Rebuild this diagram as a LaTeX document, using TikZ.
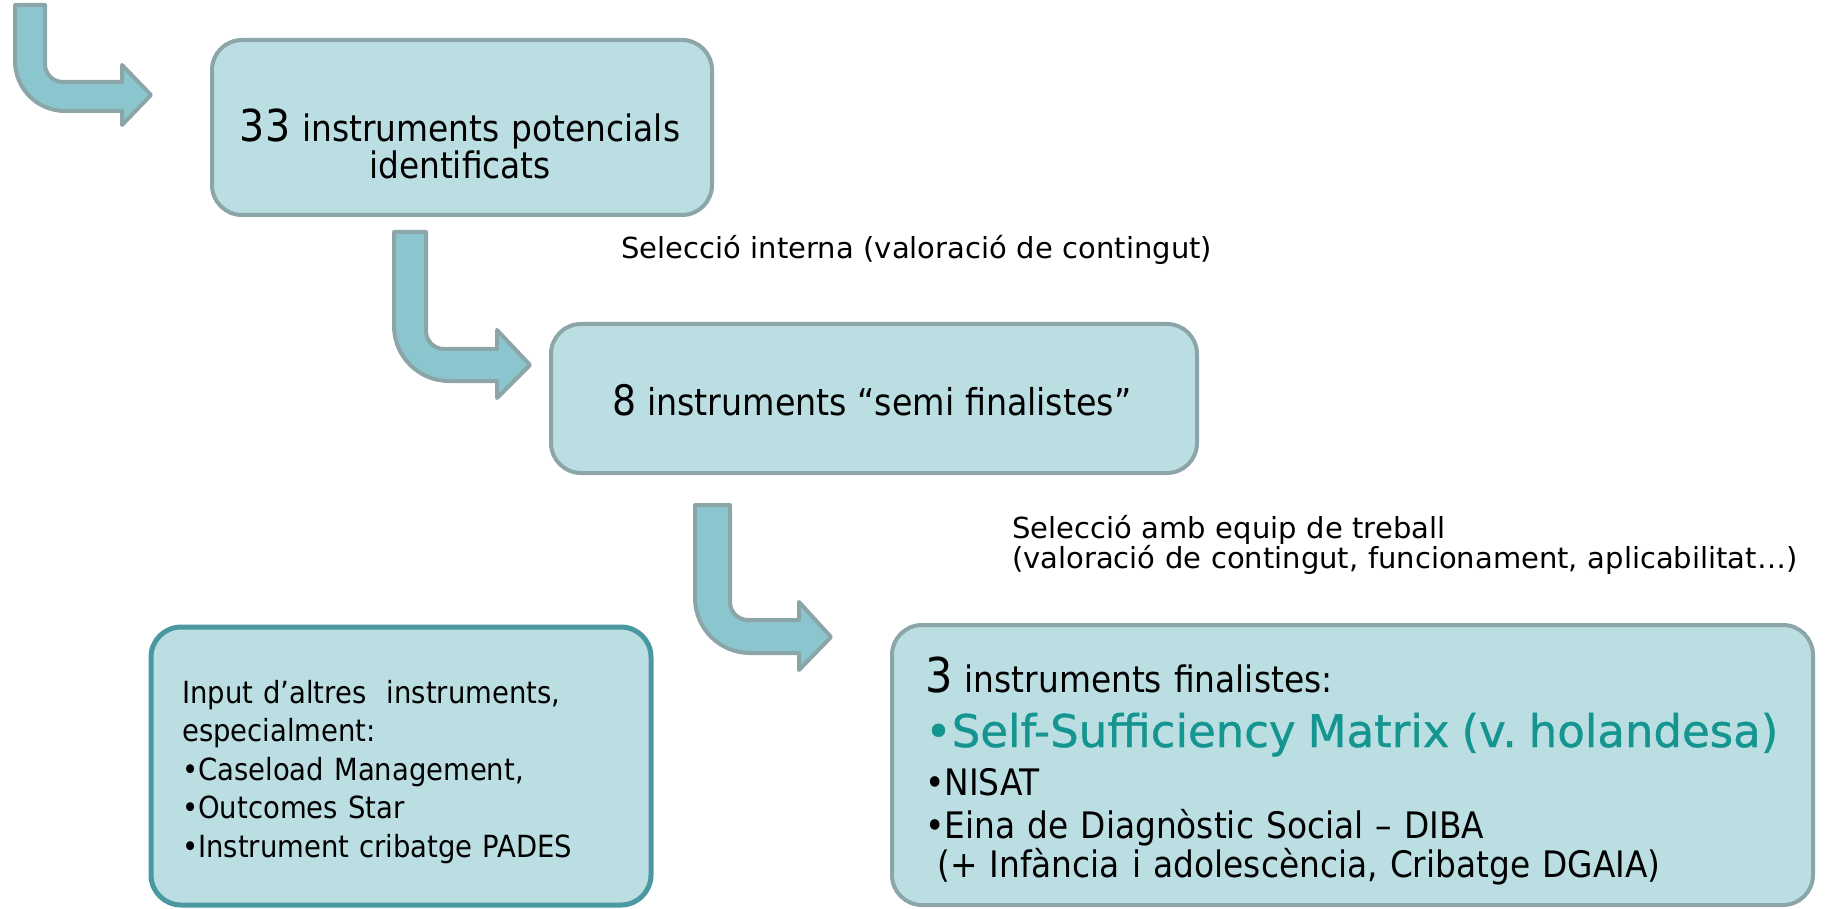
\documentclass[tikz,border=0pt]{standalone}
\usepackage{fontspec}
\setmainfont{DejaVu Sans Condensed}
\newfontfamily\notefont{DejaVu Sans}
\newfontface\matrixfont[FakeBold=0.8]{DejaVu Sans}
\setlength{\lineskiplimit}{-100pt}

\definecolor{boxfill}{HTML}{BBDEE2}
\definecolor{boxline}{HTML}{8CA5A8}
\definecolor{arrowfill}{HTML}{8BC6CE}
\definecolor{inputline}{HTML}{4A99A1}
\definecolor{matrixgreen}{HTML}{14958F}

\tikzset{
  stagebox/.style={draw=boxline, fill=boxfill, line width=4pt,
    rounded corners=30pt, inner sep=0pt},
  stagetext/.style={inner sep=0pt, anchor=base west, align=left},
  bentarrow/.style={draw=boxline, fill=arrowfill, line width=4pt,
    line join=round},
  note/.style={anchor=base west, inner sep=0pt, align=left, text width=815pt,
    font=\notefont\fontsize{29}{30}\selectfont}
}

\begin{document}
\begin{tikzpicture}[x=1pt, y=-1pt]
      \useasboundingbox (0,0) rectangle (1829,909);

      % Bent block arrows between the stages
      \draw[bentarrow] (15,5) -- (45,5) -- (45,64) arc(180:90:18)
        -- (122,82) -- (122,65) -- (151,95) -- (122,125) -- (122,111)
        -- (65,111) arc(90:180:50) -- cycle;
      \draw[bentarrow] (394,232) -- (426,232) -- (426,331) arc(180:90:18)
        -- (497,349) -- (497,330) -- (530,365) -- (497,398) -- (497,381)
        -- (449,381) arc(90:180:55) -- cycle;
      \draw[bentarrow] (695,505) -- (730,505) -- (730,602) arc(180:90:18)
        -- (799,620) -- (799,602) -- (831,637) -- (799,670) -- (799,653)
        -- (750,653) arc(90:180:55) -- cycle;

      % The three selection stages
      \node[stagebox, minimum width=500pt, minimum height=175pt] (potencials) at (462,127.5) {};
      \node[stagetext, anchor=base, align=center, text width=500pt,
        font=\fontsize{36.5}{37}\selectfont] (potencialstext) at (460,142)
        {{\fontsize{44}{44}\selectfont 33} instruments potencials\\identificats};

      \node[stagebox, minimum width=646pt, minimum height=149pt] (semifinal) at (874,398.5) {};
      \node[stagetext, anchor=base, font=\fontsize{37}{37}\selectfont] (semifinaltext) at (872,415)
        {{\fontsize{42}{42}\selectfont 8} instruments “semi finalistes”};

      \node[stagebox, minimum width=921pt, minimum height=280pt] (finalistes) at (1352.5,765) {};
      \node[stagetext, text width=880pt, font=\fontsize{36.5}{39}\selectfont] (finaliststext) at (925,692)
        {{\fontsize{48}{48}\selectfont 3} instruments finalistes:\\[16pt]
         {\color{matrixgreen}\matrixfont\fontsize{45}{45}\selectfont •Self-Sufficiency Matrix (v.~holandesa)}\\[9pt]
         •NISAT\\[4pt]
         •Eina de Diagnòstic Social – DIBA\\
         \ (+ Infància i adolescència, Cribatge DGAIA)};

      % Other instruments that fed the selection
      \node[stagebox, draw=inputline, line width=5pt, minimum width=500pt,
        minimum height=278pt] (altres) at (401,766) {};
      \node[stagetext, text width=460pt, font=\fontsize{30.5}{38.5}\selectfont] (altrestext) at (182,703)
        {Input d’altres\ \ instruments,\\
         especialment:\\
         •Caseload Management,\\
         •Outcomes Star\\
         •Instrument cribatge PADES};

      % Selection criteria
      \node[note] (interna) at (621,259) {Selecció interna (valoració de contingut)};
      \node[note] (equip) at (1012,538) {Selecció amb equip de treball\\
        (valoració de contingut, funcionament, aplicabilitat…)};
\end{tikzpicture}
\end{document}
